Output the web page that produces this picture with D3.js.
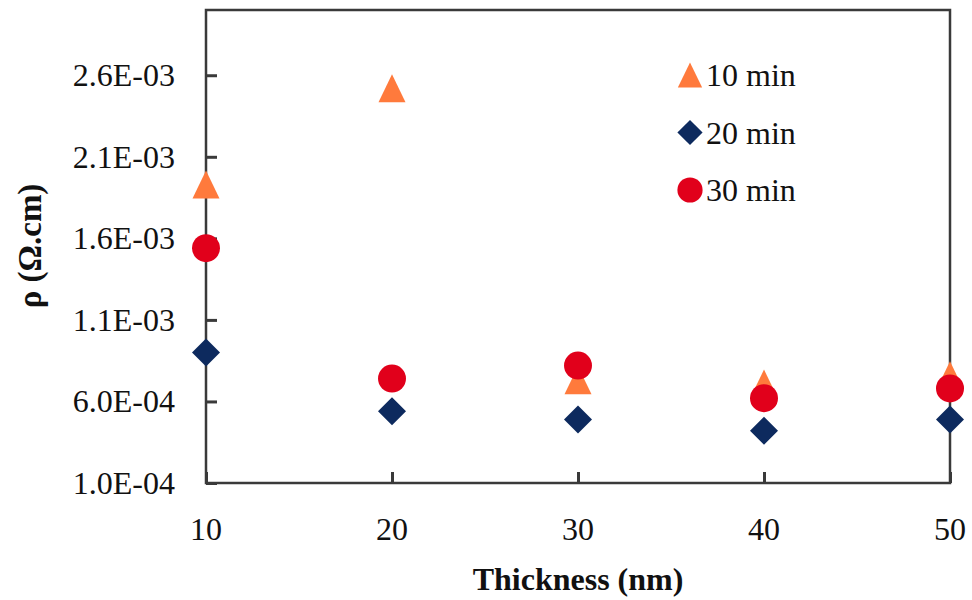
<!DOCTYPE html>
<html>
<head>
<meta charset="utf-8">
<script src="https://cdn.jsdelivr.net/npm/d3@7"></script>
<style>
  html, body { margin: 0; padding: 0; background: #fff; }
  svg { display: block; }
  text { font-family: "Liberation Serif", "Times New Roman", serif; fill: #111; }
</style>
</head>
<body>
<svg id="chart" width="972" height="600"></svg>
<script>
// Film thickness (nm) and resistivity (Ω·cm) for three deposition times
const thickness = [10, 20, 30, 40, 50];
const rho10min = [1.93e-3, 2.52e-3, 7.3e-4, 7.1e-4, 7.6e-4];
const rho20min = [9.0e-4, 5.4e-4, 4.9e-4, 4.2e-4, 4.9e-4];
const rho30min = [1.54e-3, 7.4e-4, 8.2e-4, 6.2e-4, 6.8e-4];
const yTicks = [1.0e-4, 6.0e-4, 1.1e-3, 1.6e-3, 2.1e-3, 2.6e-3];
const xTicks = [10, 20, 30, 40, 50];
const seriesNames = ["10 min", "20 min", "30 min"];

const svg = d3.select("#chart");
const plot = { left: 206, right: 950, top: 10, bottom: 483 };

const x = d3.scaleLinear().domain([10, 50]).range([plot.left, plot.right]);
const y = d3.scaleLinear().domain([1.0e-4, 3.0e-3]).range([plot.bottom, plot.top]);

const fmtExp = v => {
  const e = Math.floor(Math.log10(v) + 1e-9);
  const m = v / Math.pow(10, e);
  const sign = e < 0 ? "-" : "+";
  return m.toFixed(1) + "E" + sign + String(Math.abs(e)).padStart(2, "0");
};

// Marker shapes
const S = 14;
const shapes = {
  triangle: `M0,${-S} L${S - 0.5},${S} L${-S + 0.5},${S} Z`,
  diamond: `M0,${-S} L${S},0 L0,${S} L${-S},0 Z`,
  circle: d3.symbol(d3.symbolCircle, Math.PI * S * S)()
};

const series = [
  { name: seriesNames[0], values: rho10min, shape: "triangle", color: "#ff7a3c" },
  { name: seriesNames[1], values: rho20min, shape: "diamond", color: "#0d2a5e" },
  { name: seriesNames[2], values: rho30min, shape: "circle", color: "#e1001b" }
];

// Axes with inward ticks
const axisColor = "#3a3a3a";
const yAxis = d3.axisRight(y).tickValues(yTicks).tickSize(11).tickFormat("");
const gy = svg.append("g").attr("transform", `translate(${plot.left},0)`).call(yAxis);
gy.select(".domain").remove();
gy.selectAll(".tick line").attr("stroke", axisColor).attr("stroke-width", 3);

const xAxis = d3.axisTop(x).tickValues(xTicks).tickSize(11).tickFormat("");
const gx = svg.append("g").attr("transform", `translate(0,${plot.bottom})`).call(xAxis);
gx.select(".domain").remove();
gx.selectAll(".tick line").attr("stroke", axisColor).attr("stroke-width", 3);

// Plot frame
svg.append("rect")
  .attr("x", plot.left).attr("y", plot.top)
  .attr("width", plot.right - plot.left).attr("height", plot.bottom - plot.top)
  .attr("fill", "none").attr("stroke", axisColor).attr("stroke-width", 2.5);

// Tick labels
svg.append("g").selectAll("text").data(yTicks).join("text")
  .attr("x", 175).attr("y", d => y(d))
  .attr("text-anchor", "end").attr("dominant-baseline", "central")
  .style("font-size", "32px")
  .text(fmtExp);

svg.append("g").selectAll("text").data(xTicks).join("text")
  .attr("x", d => x(d)).attr("y", 529)
  .attr("text-anchor", "middle").attr("dominant-baseline", "central")
  .style("font-size", "32px")
  .text(d => d);

// Axis titles
svg.append("text")
  .attr("x", 578).attr("y", 590)
  .attr("text-anchor", "middle")
  .style("font-size", "32px").style("font-weight", "bold")
  .text("Thickness (nm)");

svg.append("text")
  .attr("transform", "translate(41,246) rotate(-90)")
  .attr("text-anchor", "middle")
  .style("font-size", "33px").style("font-weight", "bold")
  .text("ρ (Ω.cm)");

// Data markers
series.forEach(s => {
  svg.append("g").selectAll("path").data(s.values).join("path")
    .attr("transform", (d, i) => `translate(${x(thickness[i])},${y(d)})`)
    .attr("d", shapes[s.shape])
    .attr("fill", s.color);
});

// Legend
const legend = svg.append("g");
series.forEach((s, i) => {
  const ly = 75 + i * 57.5;
  legend.append("path")
    .attr("transform", `translate(690,${ly}) scale(0.9)`)
    .attr("d", shapes[s.shape])
    .attr("fill", s.color);
  legend.append("text")
    .attr("x", 706).attr("y", ly)
    .attr("dominant-baseline", "central")
    .style("font-size", "32px")
    .text(s.name);
});
</script>
</body>
</html>
